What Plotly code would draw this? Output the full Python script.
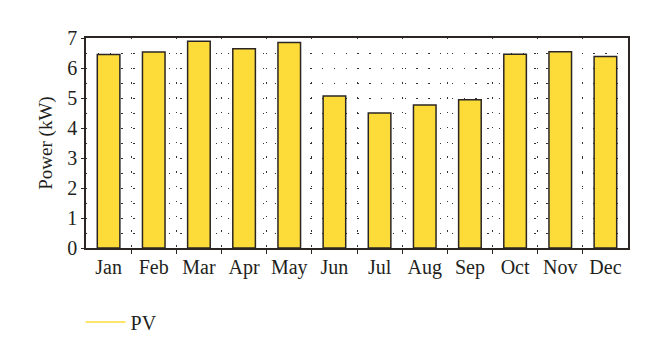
import plotly.graph_objects as go

months = ["Jan", "Feb", "Mar", "Apr", "May", "Jun", "Jul", "Aug", "Sep", "Oct", "Nov", "Dec"]
pv_power = [6.45, 6.53, 6.89, 6.64, 6.85, 5.07, 4.50, 4.77, 4.94, 6.46, 6.54, 6.38]
y_ticks = [0, 1, 2, 3, 4, 5, 6, 7]

xpos = list(range(len(months)))
bounds = [i + 0.5 for i in range(len(months) - 1)]
halves = [i * 0.5 for i in range(1, 14)]

FONT = "Liberation Serif"
DARK = "#2b2624"
YELLOW = "#fddc3a"

fig = go.Figure()
fig.add_trace(go.Bar(
    x=xpos, y=pv_power, width=0.5,
    marker=dict(color=YELLOW, line=dict(color=DARK, width=1.5)),
    showlegend=False, name="PV",
))
fig.add_trace(go.Scatter(
    x=[None], y=[None], mode="lines", name="PV",
    line=dict(color=YELLOW, width=1.5), showlegend=True,
))

fig.update_layout(
    width=660, height=360,
    margin=dict(l=78, r=40, t=30, b=120),
    paper_bgcolor="white", plot_bgcolor="white",
    font=dict(family=FONT, size=20, color="#231f20"),
    legend=dict(orientation="h", x=-0.01, xanchor="left", y=-0.352, yanchor="middle",
                font=dict(family=FONT, size=20), itemwidth=40),
    bargap=0.5,
)
fig.update_xaxes(
    range=[-0.5, 11.5], tickvals=xpos, ticktext=months, ticks="", showgrid=False,
    showline=True, linecolor=DARK, linewidth=1.5, mirror=True, zeroline=False,
    tickfont=dict(family=FONT, size=20),
    minor=dict(tickvals=bounds, ticks="outside", ticklen=4, tickcolor=DARK, tickwidth=1.2,
               showgrid=True, gridcolor="#333333", gridwidth=1.3, griddash="1.3px,13.5px"),
)
fig.update_yaxes(
    range=[0, 7], tickvals=y_ticks, ticks="outside", ticklen=3, tickcolor=DARK, tickwidth=1.2,
    showgrid=False, zeroline=False,
    showline=True, linecolor=DARK, linewidth=1.5, mirror=True,
    title=dict(text="Power (kW)", font=dict(family=FONT, size=19), standoff=10),
    tickfont=dict(family=FONT, size=20),
    minor=dict(tickvals=halves, ticks="", showgrid=True, gridcolor="#333333", gridwidth=1.3,
               griddash="1.3px,10.5px"),
)

fig.write_html("out.html")
